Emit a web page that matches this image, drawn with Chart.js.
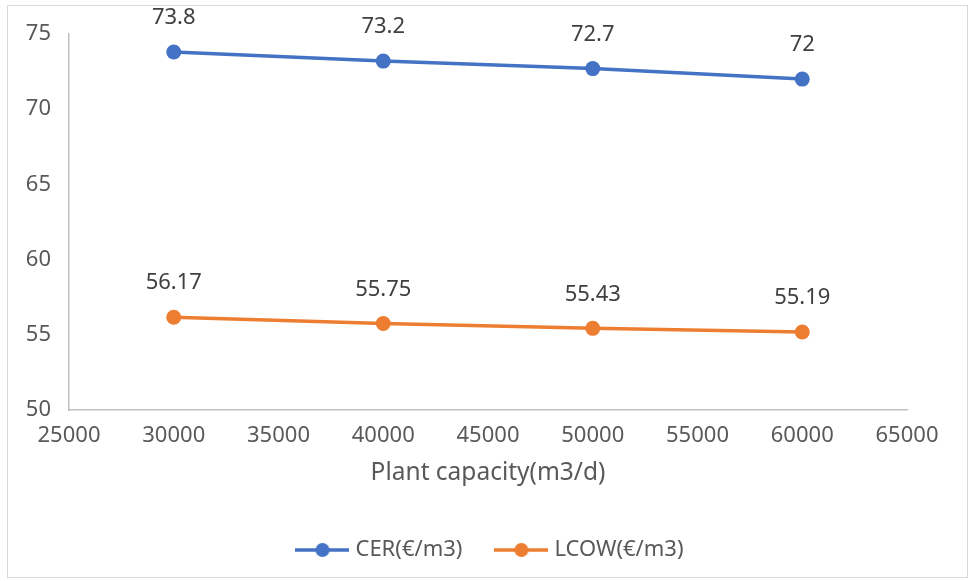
<!DOCTYPE html>
<html>
<head>
<meta charset="utf-8">
<script src="https://cdn.jsdelivr.net/npm/chart.js@4/dist/chart.umd.min.js"></script>
<style>
  html, body { margin: 0; padding: 0; background: #fff; }
  #frame { position: absolute; left: 7px; top: 5px; width: 959px; height: 571px; border: 1.5px solid #d9d9d9; }
  #wrap { position: absolute; left: 0; top: 0; width: 972px; height: 581px; }
</style>
</head>
<body>
<div id="frame"></div>
<div id="wrap"><canvas id="chart"></canvas></div>
<script>
// data
const capacity = [30000, 40000, 50000, 60000];
const cer = [73.8, 73.2, 72.7, 72];
const lcow = [56.17, 55.75, 55.43, 55.19];
const xTicks = [25000, 30000, 35000, 40000, 45000, 50000, 55000, 60000, 65000];
const yTicks = [50, 55, 60, 65, 70, 75];

const FONT = '"Noto Sans", "DejaVu Sans", sans-serif';
const BLUE = '#4472C4';
const ORANGE = '#ED7D31';

// legend marker: line with a dot in the middle
function legendMarker(color) {
  const c = document.createElement('canvas');
  c.width = 54; c.height = 16;
  const g = c.getContext('2d');
  g.strokeStyle = color;
  g.lineWidth = 3.5;
  g.beginPath(); g.moveTo(0, 8); g.lineTo(54, 8); g.stroke();
  g.fillStyle = color;
  g.beginPath(); g.arc(27, 8, 7, 0, Math.PI * 2); g.fill();
  return c;
}

// value labels above the points
const valueLabels = {
  id: 'valueLabels',
  afterDatasetsDraw(chart) {
    const ctx = chart.ctx;
    ctx.save();
    ctx.font = '22px ' + FONT;
    ctx.fillStyle = '#404040';
    ctx.textAlign = 'center';
    ctx.textBaseline = 'middle';
    chart.data.datasets.forEach(function(ds, i) {
      chart.getDatasetMeta(i).data.forEach(function(pt, j) {
        ctx.fillText(String(ds.data[j].y), pt.x, pt.y - 34);
      });
    });
    ctx.restore();
  }
};

// the legend should be centred on the whole frame, not only the padded box
const centreLegend = {
  id: 'centreLegend',
  afterLayout(chart) {
    const lg = chart.legend;
    if (lg) {
      lg.left = 77;
      lg.width = lg.right - lg.left;
    }
  }
};

function pairs(ys) {
  return capacity.map(function(x, i) { return { x: x, y: ys[i] }; });
}

new Chart(document.getElementById('chart'), {
  type: 'line',
  data: {
    datasets: [{
      label: 'CER(€/m3)',
      data: pairs(cer),
      borderColor: BLUE,
      backgroundColor: BLUE,
      borderWidth: 3.5,
      pointRadius: 7.5,
      pointHoverRadius: 7.5,
      pointBorderWidth: 0,
      pointStyle: 'circle',
      legendMarker: legendMarker(BLUE)
    }, {
      label: 'LCOW(€/m3)',
      data: pairs(lcow),
      borderColor: ORANGE,
      backgroundColor: ORANGE,
      borderWidth: 3.5,
      pointRadius: 7.5,
      pointHoverRadius: 7.5,
      pointBorderWidth: 0,
      pointStyle: 'circle',
      legendMarker: legendMarker(ORANGE)
    }]
  },
  options: {
    responsive: true,
    maintainAspectRatio: false,
    animation: false,
    layout: { padding: { top: 34, right: 65, left: 0, bottom: 10 } },
    plugins: {
      tooltip: { enabled: false },
      legend: {
        position: 'bottom',
        labels: {
          usePointStyle: true,
          pointStyleWidth: 44,
          padding: 37,
          color: '#595959',
          font: { family: FONT, size: 22 },
          generateLabels: function(chart) {
            return chart.data.datasets.map(function(ds, i) {
              return {
                text: ds.label,
                pointStyle: ds.legendMarker,
                fillStyle: ds.borderColor,
                strokeStyle: ds.borderColor,
                lineWidth: 0,
                fontColor: '#595959',
                datasetIndex: i,
                hidden: false
              };
            });
          }
        }
      }
    },
    scales: {
      x: {
        type: 'linear',
        min: 25000,
        max: 65000,
        afterBuildTicks: function(scale) { scale.ticks = xTicks.map(function(v) { return { value: v }; }); },
        afterFit: function(scale) { scale.height = 92; },
        grid: { display: false },
        border: { display: true, color: '#bfbfbf', width: 1.5 },
        ticks: {
          padding: 5,
          maxRotation: 0,
          color: '#595959',
          font: { family: FONT, size: 22 },
          callback: function(v) { return String(v); }
        },
        title: {
          display: true,
          text: 'Plant capacity(m3/d)',
          color: '#595959',
          font: { family: FONT, size: 24.5 },
          padding: { top: 0, bottom: 14 }
        }
      },
      y: {
        min: 50,
        max: 75,
        afterBuildTicks: function(scale) { scale.ticks = yTicks.map(function(v) { return { value: v }; }); },
        afterFit: function(scale) { scale.width = 69; },
        grid: { display: false },
        border: { display: true, color: '#bfbfbf', width: 1.5 },
        ticks: {
          padding: 10,
          color: '#595959',
          font: { family: FONT, size: 22 }
        }
      }
    }
  },
  plugins: [valueLabels, centreLegend]
});
</script>
</body>
</html>
